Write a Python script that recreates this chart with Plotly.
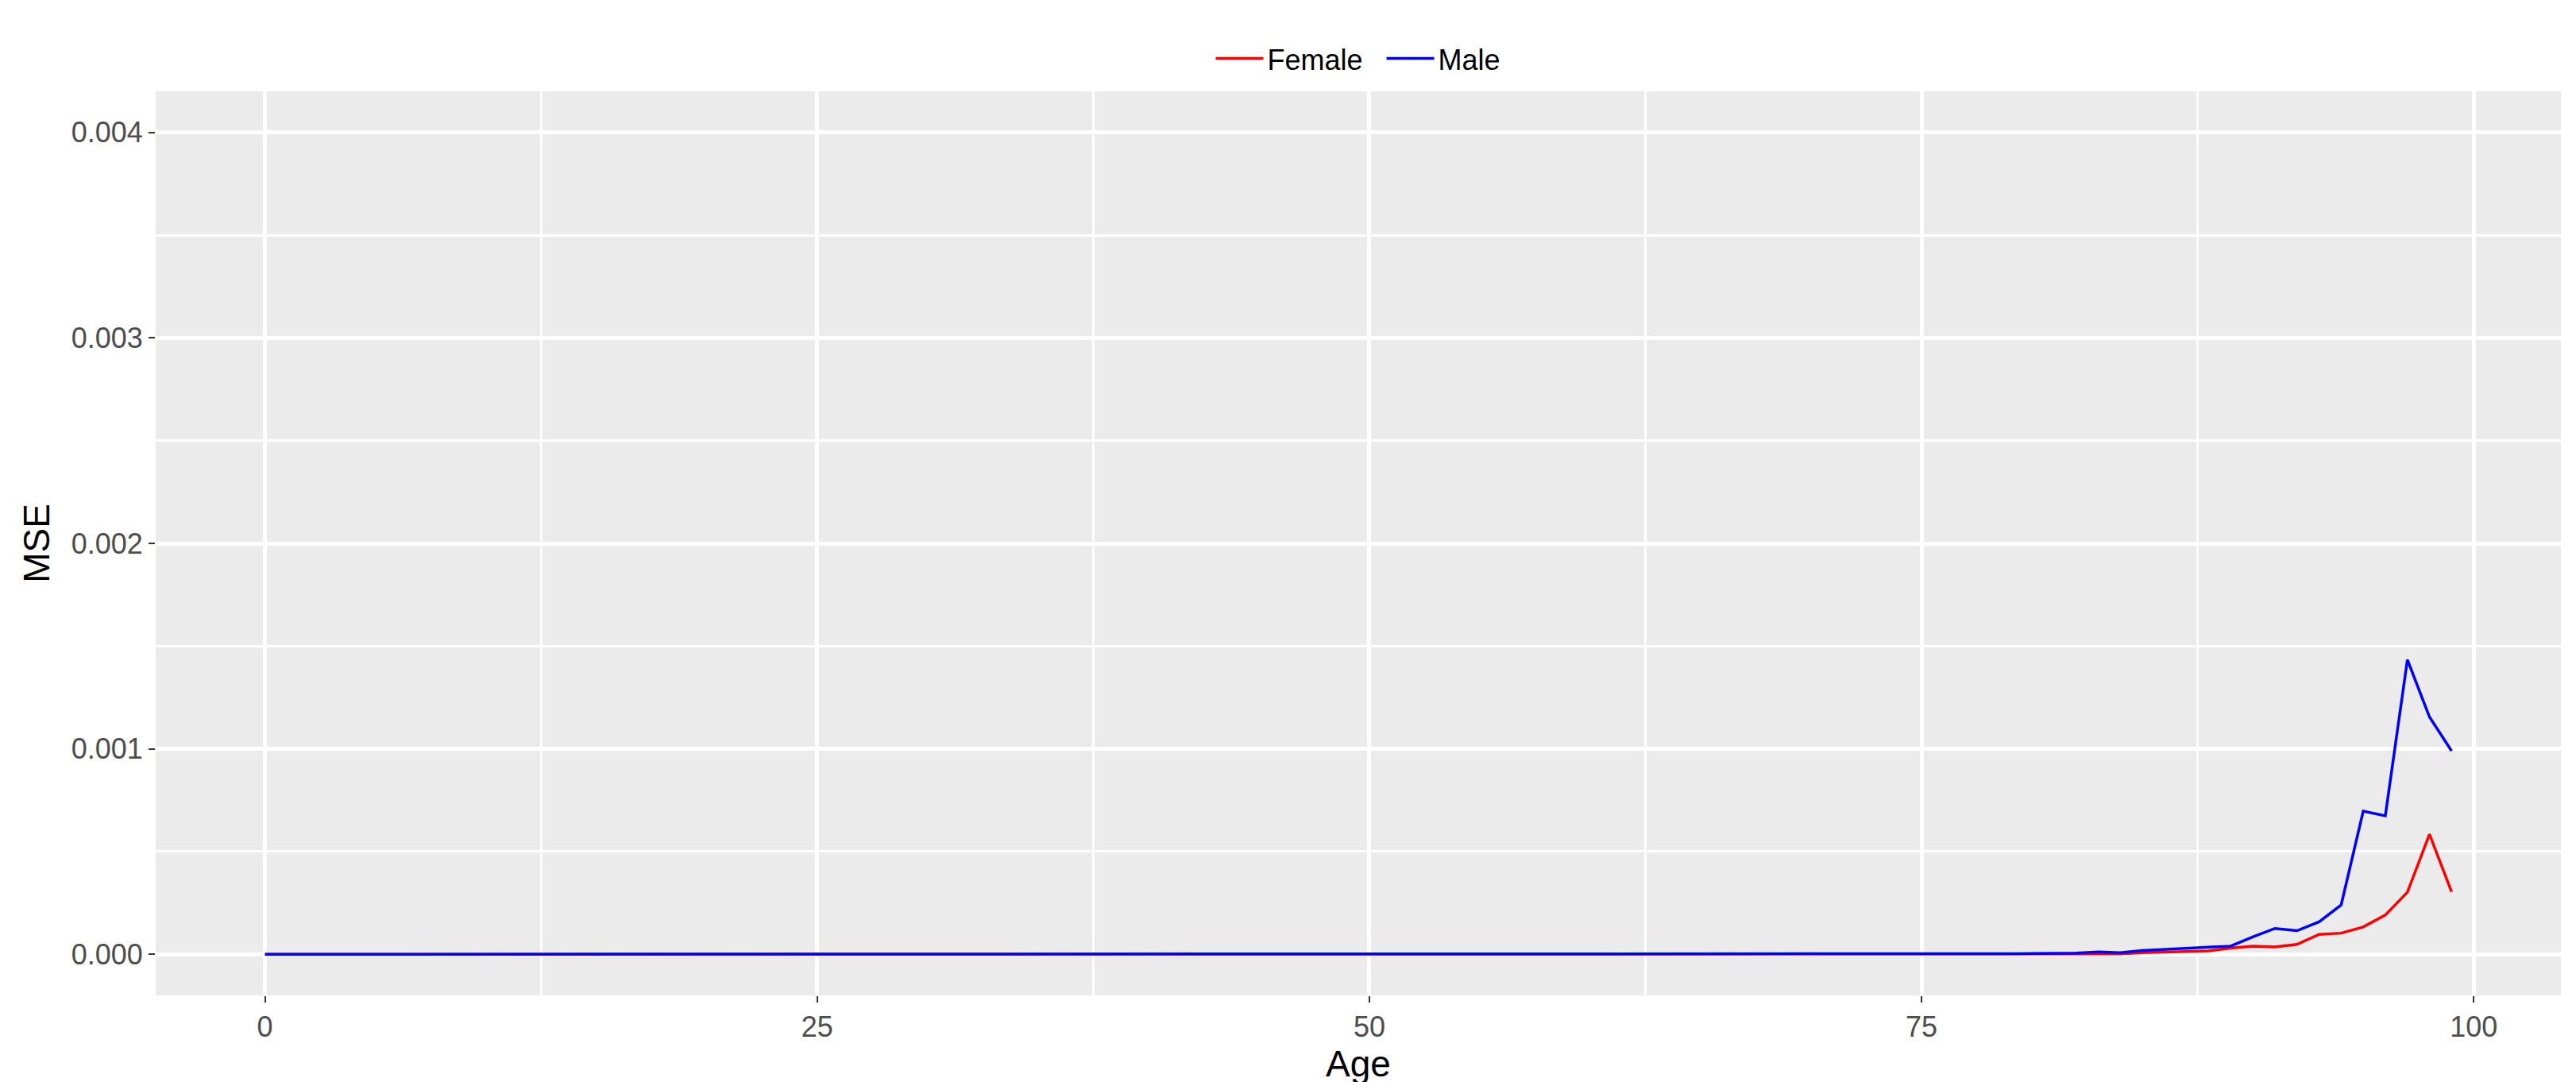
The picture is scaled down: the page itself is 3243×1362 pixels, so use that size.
import plotly.graph_objects as go

ages = list(range(0, 100))
female_tail = {84: 0.000002, 85: 0.000008, 86: 0.000012, 87: 0.000013, 88: 0.000017, 89: 0.00003,
               90: 0.00004, 91: 0.000036, 92: 0.000048, 93: 0.000097, 94: 0.000103, 95: 0.000133,
               96: 0.000191, 97: 0.000302, 98: 0.000584, 99: 0.000304}
male_tail = {76: 0.000002, 77: 0.000002, 78: 0.000003, 79: 0.000003, 80: 0.000004, 81: 0.000005,
             82: 0.000006, 83: 0.000012, 84: 0.000008, 85: 0.000018, 86: 0.000023, 87: 0.00003,
             88: 0.000034, 89: 0.00004, 90: 0.000085, 91: 0.000126, 92: 0.000115, 93: 0.000158,
             94: 0.00024, 95: 0.000697, 96: 0.000674, 97: 0.001434, 98: 0.001155, 99: 0.00099}
female = [female_tail.get(a, 0.0) for a in ages]
male = [male_tail.get(a, 0.0) for a in ages]

fig = go.Figure()
fig.add_trace(go.Scatter(x=ages, y=female, mode="lines", name="Female  ", line=dict(color="#FF0000", width=3.5)))
fig.add_trace(go.Scatter(x=ages, y=male, mode="lines", name="Male", line=dict(color="#0000FF", width=3.5)))

fig.update_layout(
    width=3243, height=1362,
    paper_bgcolor="white", plot_bgcolor="#EBEBEB",
    margin=dict(l=188, r=27, t=107, b=117),
    font=dict(family="Liberation Sans, Arial", color="#4D4D4D", size=36),
    legend=dict(orientation="h", x=0.5, xanchor="center", y=1.01, yanchor="bottom",
                font=dict(size=36, color="black"), bgcolor="rgba(0,0,0,0)", itemwidth=60),
    showlegend=True,
)
fig.update_xaxes(range=[-4.95, 103.95], tickvals=[0, 25, 50, 75, 100], showgrid=True,
                 gridcolor="white", gridwidth=5, zeroline=False, ticks="outside", ticklen=8,
                 tickcolor="#333333", tickwidth=2,
                 minor=dict(tickvals=[12.5, 37.5, 62.5, 87.5], showgrid=True, gridcolor="white", gridwidth=2.5),
                 title=dict(text="Age", font=dict(size=46, color="black"), standoff=8))
fig.update_yaxes(range=[-0.0002, 0.0042], tickvals=[0, 0.001, 0.002, 0.003, 0.004],
                 ticktext=["0.000", "0.001", "0.002", "0.003", "0.004"], showgrid=True,
                 gridcolor="white", gridwidth=5, zeroline=False, ticks="outside", ticklen=8,
                 tickcolor="#333333", tickwidth=2,
                 minor=dict(tickvals=[0.0005, 0.0015, 0.0025, 0.0035], showgrid=True, gridcolor="white", gridwidth=2.5),
                 title=dict(text="MSE", font=dict(size=46, color="black"), standoff=12))

fig.write_html("out.html")
